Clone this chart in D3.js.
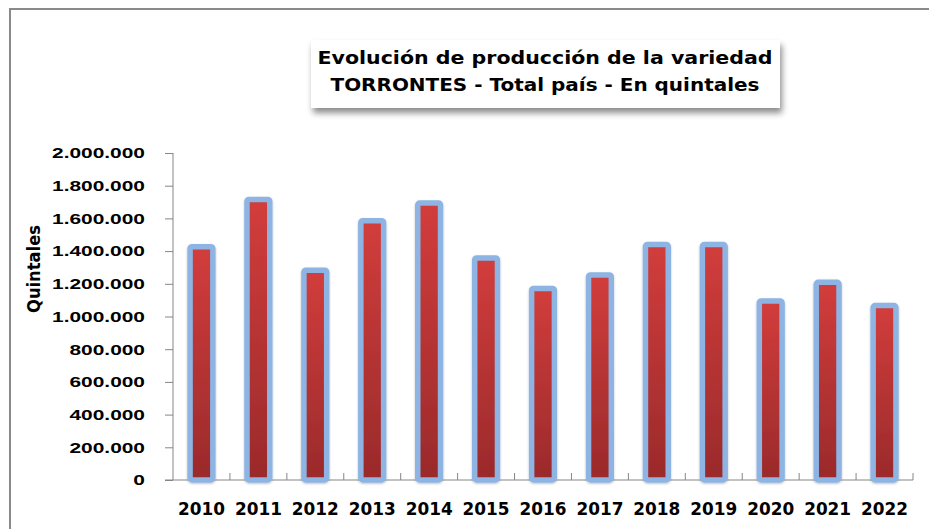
<!DOCTYPE html>
<html>
<head>
<meta charset="utf-8">
<script src="https://cdn.jsdelivr.net/npm/d3@7"></script>
<style>
  body { margin: 0; background: #fff; }
  svg { display: block; font-family: "DejaVu Sans", sans-serif; }
</style>
</head>
<body>
<div id="chartContainer"></div>
<script>
// data
const years = ["2010", "2011", "2012", "2013", "2014", "2015", "2016", "2017", "2018", "2019", "2020", "2021", "2022"];
const quintales = [1427000, 1716000, 1283000, 1586000, 1694000, 1358000, 1172000, 1254000, 1440000, 1440000, 1095000, 1209000, 1067000];
const yTicks = [0, 200000, 400000, 600000, 800000, 1000000, 1200000, 1400000, 1600000, 1800000, 2000000];
const titleLines = ["Evolución de producción de la variedad", "TORRONTES - Total país - En quintales"];

const width = 929;
const height = 529;
const plot = { left: 173, right: 913, top: 153, bottom: 480 };

// number format with dots as thousand separator
const esLocale = d3.formatLocale({ decimal: ",", thousands: ".", grouping: [3], currency: ["$", ""] });
const fmt = esLocale.format(",.0f");

const svg = d3.select("#chartContainer")
  .append("svg")
  .attr("width", width)
  .attr("height", height);

const defs = svg.append("defs");

// red gradient for the bars
const grad = defs.append("linearGradient")
  .attr("id", "barGrad")
  .attr("x1", 0).attr("y1", 0).attr("x2", 0).attr("y2", 1);
grad.append("stop").attr("offset", "0%").attr("stop-color", "#d23d3c");
grad.append("stop").attr("offset", "100%").attr("stop-color", "#9a2a2b");

const shadow = defs.append("filter")
  .attr("id", "shadow")
  .attr("x", "-10%").attr("y", "-20%").attr("width", "130%").attr("height", "160%");
shadow.append("feDropShadow")
  .attr("dx", 2).attr("dy", 5).attr("stdDeviation", 3)
  .attr("flood-color", "#000").attr("flood-opacity", 0.45);

const barGlow = defs.append("filter")
  .attr("id", "barGlow")
  .attr("x", "-30%").attr("y", "-10%").attr("width", "160%").attr("height", "120%");
barGlow.append("feDropShadow")
  .attr("dx", 0).attr("dy", 1).attr("stdDeviation", 1.2)
  .attr("flood-color", "#000").attr("flood-opacity", 0.25);

// outer frame of the chart area
svg.append("rect")
  .attr("x", 10).attr("y", 9)
  .attr("width", 1000).attr("height", 600)
  .attr("fill", "none")
  .attr("stroke", "#8a8a8a")
  .attr("stroke-width", 2);

// SCALES
const xScale = d3.scaleBand()
  .domain(years)
  .range([plot.left, plot.right])
  .paddingInner(0.6)
  .paddingOuter(0.3);

const yScale = d3.scaleLinear()
  .domain([0, 2000000])
  .range([plot.bottom, plot.top]);

// stretch text horizontally so a sample string gets the width seen in the picture
function stretch(sel, sampleWidth) {
  const widest = d3.max(sel.nodes(), (n) => n.getComputedTextLength());
  return sampleWidth / widest;
}

// Y axis
const yAxis = d3.axisLeft(yScale)
  .tickValues(yTicks)
  .tickFormat(fmt)
  .tickSize(8)
  .tickPadding(20);

const yG = svg.append("g")
  .attr("transform", `translate(${plot.left},0)`)
  .call(yAxis);
yG.select(".domain").attr("stroke", "#868686").attr("d", `M0,${plot.top}V${plot.bottom}`);
yG.selectAll(".tick line").attr("stroke", "#868686");
const yLabels = yG.selectAll("text")
  .attr("fill", "#000")
  .style("font-size", "15px")
  .style("font-weight", "bold");
const ySx = stretch(yLabels, 93);
yLabels.attr("x", null).attr("transform", `translate(-28,0) scale(${ySx},1)`);

// X axis baseline + category boundary ticks (pointing up)
svg.append("line")
  .attr("x1", plot.left - 8).attr("x2", plot.right)
  .attr("y1", plot.bottom).attr("y2", plot.bottom)
  .attr("stroke", "#868686");

const step = xScale.step();
svg.append("g")
  .selectAll("line")
  .data(years)
  .enter()
  .append("line")
  .attr("x1", (d) => xScale(d) - step * xScale.paddingOuter() + step)
  .attr("x2", (d) => xScale(d) - step * xScale.paddingOuter() + step)
  .attr("y1", plot.bottom)
  .attr("y2", plot.bottom - 7)
  .attr("stroke", "#868686");

// year labels
const yearLabels = svg.append("g")
  .selectAll("text")
  .data(years)
  .enter()
  .append("text")
  .attr("text-anchor", "middle")
  .style("font-size", "17px")
  .style("font-weight", "bold")
  .text((d) => d);
const xSx = stretch(yearLabels, 47);
yearLabels.attr("transform", (d) => `translate(${xScale(d) + xScale.bandwidth() / 2},515) scale(${xSx},1)`);

// bars
svg.append("g")
  .selectAll("rect")
  .data(years)
  .enter()
  .append("rect")
  .attr("x", (d) => xScale(d))
  .attr("y", (d, i) => yScale(quintales[i]))
  .attr("width", xScale.bandwidth())
  .attr("height", (d, i) => plot.bottom - yScale(quintales[i]))
  .attr("rx", 2)
  .attr("fill", "url(#barGrad)")
  .attr("stroke", "#8db4e3")
  .attr("stroke-width", 5.5)
  .attr("stroke-linejoin", "round")
  .attr("filter", "url(#barGlow)");

// y axis title
svg.append("text")
  .attr("transform", "translate(40,269) rotate(-90)")
  .attr("text-anchor", "middle")
  .attr("textLength", 88)
  .attr("lengthAdjust", "spacingAndGlyphs")
  .style("font-size", "18px")
  .style("font-weight", "bold")
  .text("Quintales");

// title box
svg.append("rect")
  .attr("x", 311).attr("y", 40)
  .attr("width", 469).attr("height", 68)
  .attr("fill", "#fff")
  .attr("filter", "url(#shadow)");

const titleWidths = [455, 429];
svg.append("g")
  .selectAll("text")
  .data(titleLines)
  .enter()
  .append("text")
  .attr("x", 545)
  .attr("y", (d, i) => 64 + i * 27)
  .attr("text-anchor", "middle")
  .attr("textLength", (d, i) => titleWidths[i])
  .attr("lengthAdjust", "spacingAndGlyphs")
  .style("font-size", "18px")
  .style("font-weight", "bold")
  .text((d) => d);
</script>
</body>
</html>
